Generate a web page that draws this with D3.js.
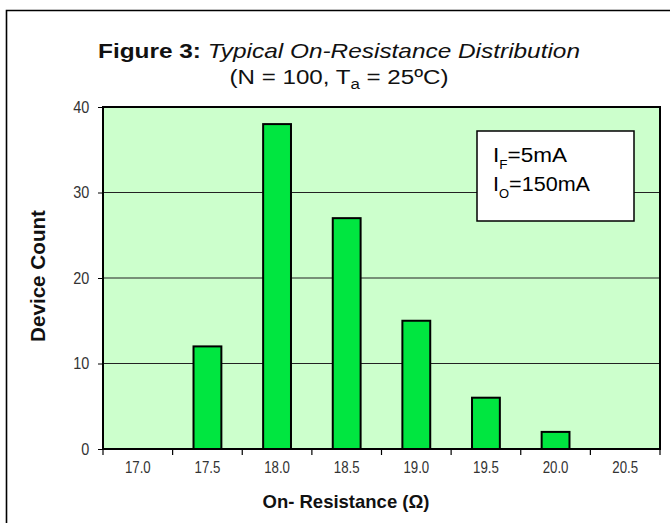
<!DOCTYPE html>
<meta charset="utf-8">
<style>
  html, body { margin: 0; padding: 0; background: #fff; }
  svg { display: block; font-family: "Liberation Sans", Arial, sans-serif; }
  .grid line { stroke: #222; stroke-width: 1.2; }
  .bar { fill: #00e640; stroke: #000; stroke-width: 2; }
</style>
<div id="chart"></div>
<script src="https://cdn.jsdelivr.net/npm/d3@7"></script>
<script>
// readings
var categories = ["17.0", "17.5", "18.0", "18.5", "19.0", "19.5", "20.0", "20.5"];
var counts = [0, 12, 38, 27, 15, 6, 2, 0];
var yTicks = [0, 10, 20, 30, 40];

var W = 670, H = 523;
var m = {left: 103, right: 10, top: 107, bottom: 74};

var svg = d3.select("#chart").append("svg")
  .attr("width", W).attr("height", H);

// outer frame (left + top only visible)
svg.append("path")
  .attr("d", "M6.5,523 V10.5 H670")
  .attr("fill", "none").attr("stroke", "#000").attr("stroke-width", 1.6);

var x = d3.scaleBand().domain(categories).range([m.left, W - m.right]);
var y = d3.scaleLinear().domain([0, 40]).range([H - m.bottom, m.top]);

// plot background
svg.append("rect")
  .attr("x", m.left).attr("y", m.top)
  .attr("width", W - m.right - m.left).attr("height", H - m.bottom - m.top)
  .attr("fill", "#ccffcc");

svg.append("g").attr("class", "grid")
  .selectAll("line").data(yTicks.filter(d => d > 0 && d < 40)).enter()
  .append("line")
  .attr("x1", m.left).attr("x2", W - m.right)
  .attr("y1", d => y(d)).attr("y2", d => y(d));

// bars
var bw = x.bandwidth() * 0.4;
svg.append("g").selectAll("rect").data(counts).enter()
  .append("rect").attr("class", "bar")
  .attr("x", (d, i) => x(categories[i]) + (x.bandwidth() - bw) / 2)
  .attr("width", bw)
  .attr("y", d => y(d))
  .attr("height", d => y(0) - y(d))
  .style("display", d => d > 0 ? null : "none");

// plot border
svg.append("rect")
  .attr("x", m.left).attr("y", m.top)
  .attr("width", W - m.right - m.left).attr("height", H - m.bottom - m.top)
  .attr("fill", "none").attr("stroke", "#000").attr("stroke-width", 2);

// y axis
var yAxis = svg.append("g")
  .attr("transform", "translate(" + m.left + ",0)")
  .call(d3.axisLeft(y).tickValues(yTicks).tickSize(5).tickPadding(11));
yAxis.select(".domain").remove();
yAxis.selectAll(".tick line").attr("stroke", "#000");
yAxis.selectAll(".tick text")
  .attr("fill", "#333").attr("font-size", 17)
  .attr("transform", "scale(0.85,1)");

// x axis: ticks at band edges, labels centred in bands
var xAxis = svg.append("g")
  .attr("transform", "translate(0," + y(0) + ")")
  .call(d3.axisBottom(x).tickSize(0).tickPadding(12));
xAxis.select(".domain").remove();
xAxis.selectAll(".tick text")
  .attr("fill", "#333").attr("font-size", 17)
  .attr("transform", "scale(0.78,1)");
var edges = categories.map(c => x(c)).concat([W - m.right]);
xAxis.selectAll("line.edge").data(edges).enter()
  .append("line").attr("class", "edge")
  .attr("x1", d => d).attr("x2", d => d)
  .attr("y1", 0).attr("y2", 6)
  .attr("stroke", "#000").attr("stroke-width", 1.2);

// titles
var t1 = svg.append("text").attr("x", 339).attr("y", 58)
  .attr("text-anchor", "middle").style("font-size", "21px").attr("fill", "#111")
  .attr("textLength", 482).attr("lengthAdjust", "spacingAndGlyphs");
t1.append("tspan").attr("font-weight", "bold").text("Figure 3: ");
t1.append("tspan").attr("font-style", "italic").text("Typical On-Resistance Distribution");

var t2 = svg.append("text").attr("x", 339).attr("y", 84)
  .attr("text-anchor", "middle").style("font-size", "20px").attr("fill", "#111")
  .attr("textLength", 219).attr("lengthAdjust", "spacingAndGlyphs");
t2.append("tspan").text("(N = 100, T");
t2.append("tspan").attr("dy", 5).style("font-size", "14px").text("a");
t2.append("tspan").attr("dy", -5).text(" = 25\u00baC)");

svg.append("text")
  .attr("transform", "translate(45," + 276 + ") rotate(-90)")
  .attr("text-anchor", "middle").attr("font-weight", "bold")
  .style("font-size", "21px").attr("fill", "#111")
  .attr("textLength", 132).attr("lengthAdjust", "spacingAndGlyphs")
  .text("Device Count");

svg.append("text").attr("x", 346).attr("y", 508)
  .attr("text-anchor", "middle").attr("font-weight", "bold")
  .style("font-size", "19px").attr("fill", "#111")
  .attr("textLength", 167).attr("lengthAdjust", "spacingAndGlyphs")
  .text("On- Resistance  (\u03a9)");

// legend box
var lg = svg.append("g").attr("transform", "translate(477,131)");
lg.append("rect").attr("width", 157).attr("height", 90)
  .attr("fill", "#fff").attr("stroke", "#000").attr("stroke-width", 1.5);
var l1 = lg.append("text").attr("x", 16).attr("y", 31).style("font-size", "20px")
  .attr("textLength", 74).attr("lengthAdjust", "spacingAndGlyphs");
l1.append("tspan").text("I");
l1.append("tspan").attr("dy", 7).style("font-size", "12px").text("F");
l1.append("tspan").attr("dy", -7).text("=5mA");
var l2 = lg.append("text").attr("x", 16).attr("y", 60).style("font-size", "20px")
  .attr("textLength", 97).attr("lengthAdjust", "spacingAndGlyphs");
l2.append("tspan").text("I");
l2.append("tspan").attr("dy", 7).style("font-size", "12px").text("O");
l2.append("tspan").attr("dy", -7).text("=150mA");
</script>
